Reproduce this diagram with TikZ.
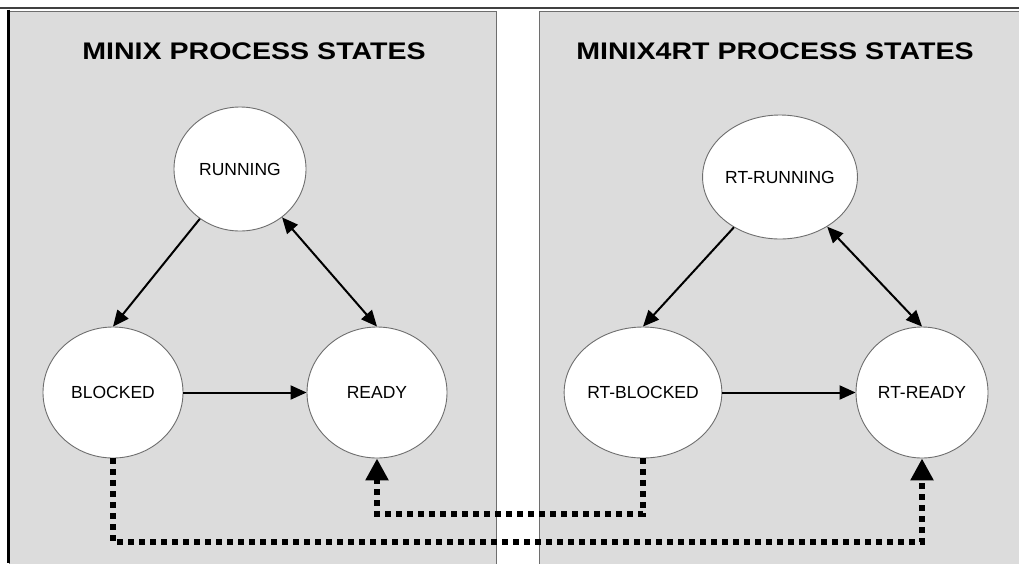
\documentclass[tikz,border=0pt]{standalone}
\usepackage{fontspec}
\setmainfont{Liberation Sans}
\usetikzlibrary{shapes.geometric,arrows.meta,calc}
\definecolor{panelgray}{HTML}{DCDCDC}
\definecolor{bordergray}{HTML}{6E6E6E}
\tikzset{
  panel/.style={fill=panelgray,draw=bordergray,line width=0.8pt},
  state/.style={ellipse,draw=bordergray,fill=white,line width=0.9pt,inner sep=0pt,
    font=\fontsize{17.5}{20}\selectfont},
  ttl/.style={font=\bfseries\fontsize{24}{28}\selectfont,inner sep=0pt},
  arr/.style={line width=2pt,-{Triangle[length=16pt,width=14pt]}},
  darr/.style={line width=2pt,{Triangle[length=16pt,width=14pt]}-{Triangle[length=16pt,width=14pt]}},
  dotarr/.style={line width=5.5pt,dash pattern=on 5.5pt off 5.5pt,line cap=butt,
    -{Triangle[length=22pt,width=22pt]}}
}
\begin{document}
\begin{tikzpicture}[x=1pt,y=-1pt]
\useasboundingbox (0,0) rectangle (1019,563);
% panels
\path[panel] (9.5,11) rectangle (496,575);
\path[panel] (539,11) rectangle (1030,575);
\draw[line width=2.5pt,color=black!75] (0,8) -- (1019,8);
\draw[line width=3pt,color=black] (8.5,9.5) -- (8.5,563);
% titles
\node[ttl] (t1) at (254,51.5) {\scalebox{1.19}[1]{MINIX PROCESS STATES}};
\node[ttl] (t2) at (775,51.5) {\scalebox{1.19}[1]{MINIX4RT PROCESS STATES}};
% left states
\node[state,minimum width=132pt,minimum height=124pt] (run) at (240,169) {RUNNING};
\node[state,minimum width=140pt,minimum height=131pt] (blk) at (113,392.5) {BLOCKED};
\node[state,minimum width=140pt,minimum height=131pt] (rdy) at (377,392.5) {READY};
% right states
\node[state,minimum width=132pt,minimum height=124pt] (rrun) at (780,177) {RT-RUNNING};
\node[state,minimum width=141pt,minimum height=131pt] (rblk) at (643,392.5) {RT-BLOCKED};
\node[state,minimum width=132pt,minimum height=131pt] (rrdy) at (922,392.5) {RT-READY};
% solid arrows
\draw[arr] (run) -- (blk.north);
\draw[darr] (run) -- (rdy.north);
\draw[arr] (blk.east) -- (rdy.west);
\draw[arr] (rrun) -- (rblk.north);
\draw[darr] (rrun) -- (rrdy.north);
\draw[arr] (rblk.east) -- (rrdy.west);
% dotted connectors
\coordinate (low) at (0,542);
\coordinate (mid) at (0,514);
\draw[dotarr] (blk.south) -- (blk.south |- low) -| (rrdy.south);
\draw[dotarr] (rblk.south) -- (rblk.south |- mid) -| (rdy.south);
\end{tikzpicture}
\end{document}
